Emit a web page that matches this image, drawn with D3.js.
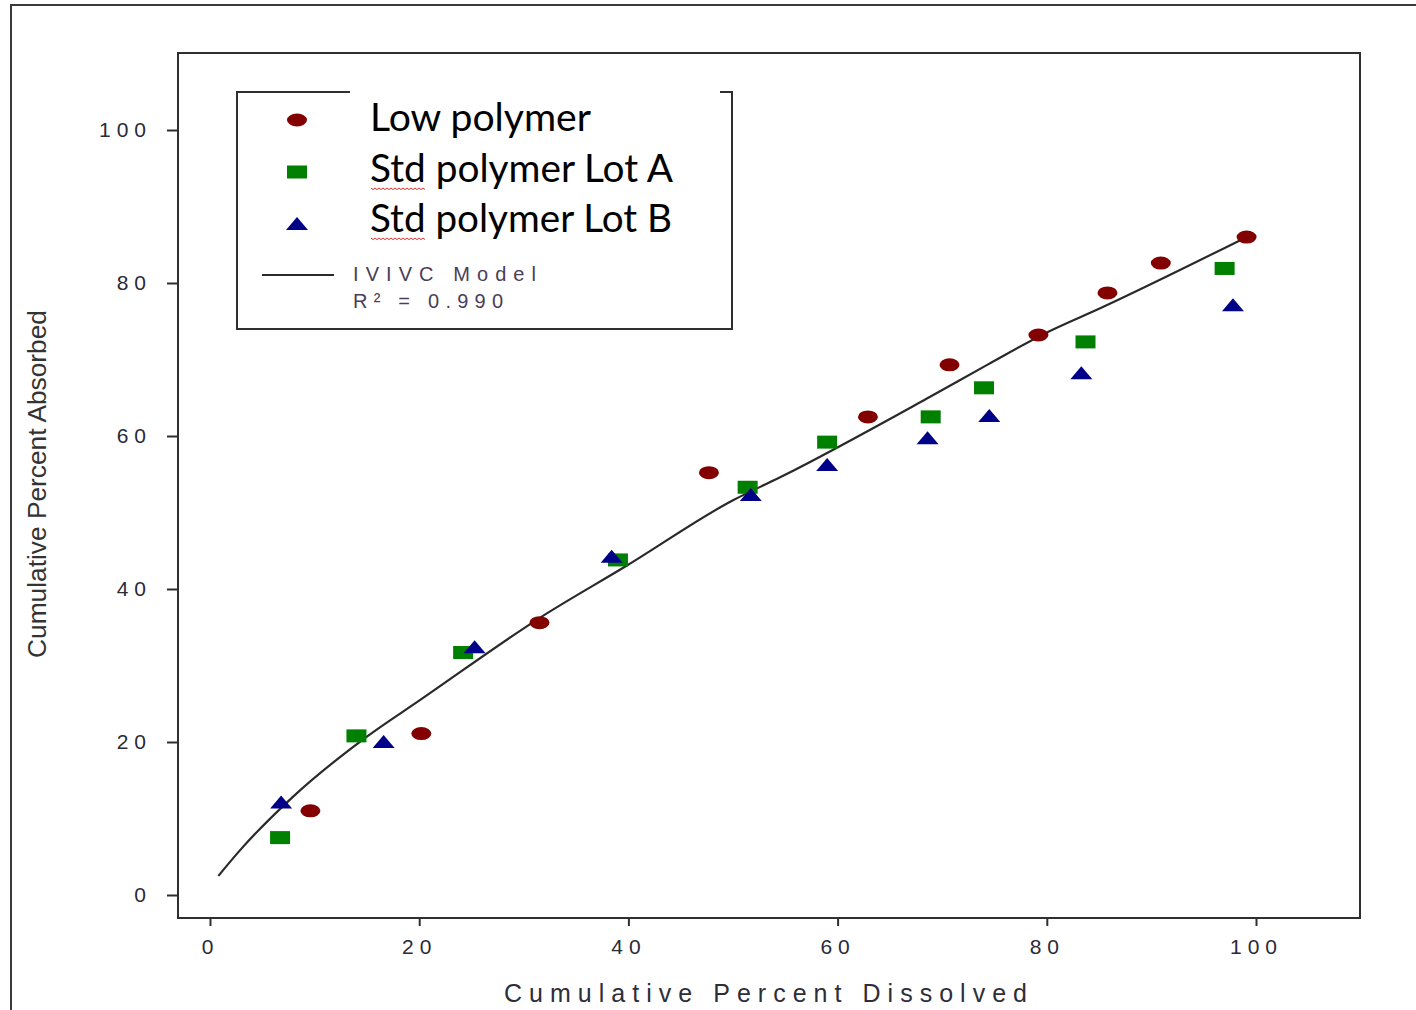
<!DOCTYPE html>
<html><head><meta charset="utf-8">
<script src="https://cdn.jsdelivr.net/npm/d3@7"></script>
<style>html,body{margin:0;padding:0;background:#fff;}svg{display:block;}</style>
</head><body>
<svg id="chart" width="1416" height="1010"></svg>
<script>
// ---- data ----
const xTicks = [0, 20, 40, 60, 80, 100];
const yTicks = [0, 20, 40, 60, 80, 100];
const seriesNames = ["Low polymer", "Std polymer Lot A", "Std polymer Lot B"];
const lowX = [9.6, 20.2, 31.5, 47.7, 62.9, 70.7, 79.2, 85.8, 90.9, 99.1];
const lowY = [11.0, 21.1, 35.6, 55.2, 62.5, 69.3, 73.2, 78.7, 82.6, 86.0];
const lotAX = [6.7, 14.0, 24.2, 39.0, 51.4, 59.0, 68.9, 74.0, 83.7, 97.0];
const lotAY = [7.5, 20.8, 31.7, 43.8, 53.3, 59.2, 62.5, 66.3, 72.3, 81.9];
const lotBX = [6.8, 16.6, 25.3, 38.4, 51.7, 59.0, 68.6, 74.5, 83.3, 97.8];
const lotBY = [12.1, 20.0, 32.4, 44.2, 52.3, 56.2, 59.7, 62.6, 68.2, 77.1];
const modelX = [0.8, 2.9, 7.9, 15.0, 20.1, 31.5, 39.9, 50.0, 54.5, 68.8, 74.3, 80.1, 85.1, 98.5];
const modelY = [2.5, 5.9, 12.8, 20.7, 25.5, 36.2, 43.1, 51.6, 54.6, 65.1, 69.3, 73.6, 76.7, 85.6];
const modelLabel = "IVIVC Model";
const r2Label = "R\u00B2 = 0.990";
const xTitle = "Cumulative Percent Dissolved";
const yTitle = "Cumulative Percent Absorbed";

const svg = d3.select("#chart");
const x = d3.scaleLinear().domain([0, 100]).range([210, 1256]);
const y = d3.scaleLinear().domain([0, 100]).range([895, 130]);
const frame = {l: 178, t: 53, r: 1360, b: 918};

// outer frame
svg.append("rect").attr("x", 11).attr("y", 5).attr("width", 1440).attr("height", 1040)
  .attr("fill", "none").attr("stroke", "#3a3a3a").attr("stroke-width", 2);

// plot frame
svg.append("rect").attr("x", frame.l).attr("y", frame.t)
  .attr("width", frame.r - frame.l).attr("height", frame.b - frame.t)
  .attr("fill", "none").attr("stroke", "#2f2f2f").attr("stroke-width", 2);

// axes
const tickFont = "'Liberation Sans', Arial, sans-serif";
const gx = svg.append("g").attr("transform", `translate(0,${frame.b})`)
  .call(d3.axisBottom(x).tickValues(xTicks).tickSize(8).tickPadding(13).tickFormat(d3.format("d")));
const gy = svg.append("g").attr("transform", `translate(${frame.l},0)`)
  .call(d3.axisLeft(y).tickValues(yTicks).tickSize(11).tickPadding(21).tickFormat(d3.format("d")));
[gx, gy].forEach(g => {
  g.select(".domain").remove();
  g.selectAll(".tick line").attr("stroke", "#2f2f2f").attr("stroke-width", 2);
  g.selectAll(".tick text").attr("fill", "#2a2a38").style("font-family", tickFont)
    .style("font-size", "21px").style("letter-spacing", "6px");
});
gx.selectAll(".tick text").attr("dx", "0px");
gy.selectAll(".tick text").attr("dx", "6px");

// axis titles
svg.append("text").attr("x", 504).attr("y", 1002)
  .attr("textLength", 523).attr("lengthAdjust", "spacing")
  .style("font-family", tickFont).style("font-size", "25px").attr("fill", "#2e2e3a").text(xTitle);
svg.append("text").attr("transform", "translate(46,658) rotate(-90)")
  .attr("textLength", 348).attr("lengthAdjust", "spacingAndGlyphs")
  .style("font-family", tickFont).style("font-size", "26px").attr("fill", "#333").text(yTitle);

// model line
const modelPts = modelX.map((v, i) => [v, modelY[i]]);
svg.append("path").datum(modelPts)
  .attr("d", d3.line().x(d => x(d[0])).y(d => y(d[1])).curve(d3.curveMonotoneX))
  .attr("fill", "none").attr("stroke", "#2a2a2a").attr("stroke-width", 2.2);

// markers
const colors = ["#820000", "#008000", "#000088"];
function drawMarker(g, type, cx, cy) {
  if (type === 0) {
    g.append("ellipse").attr("cx", cx).attr("cy", cy).attr("rx", 10).attr("ry", 6.5).attr("fill", colors[0]);
  } else if (type === 1) {
    g.append("rect").attr("x", cx - 10).attr("y", cy - 6.5).attr("width", 20).attr("height", 13).attr("fill", colors[1]);
  } else {
    g.append("path").attr("d", `M${cx},${cy - 7}L${cx + 11},${cy + 6}L${cx - 11},${cy + 6}Z`).attr("fill", colors[2]);
  }
}
const sets = [[lowX, lowY], [lotAX, lotAY], [lotBX, lotBY]];
const gm = svg.append("g");
sets.forEach((s, k) => {
  s[0].forEach((v, i) => drawMarker(gm, k, x(v), y(s[1][i])));
});

// legend
const lg = svg.append("g");
lg.append("path").attr("d", "M350,92H237V329H732V92H720")
  .attr("fill", "none").attr("stroke", "#2f2f2f").attr("stroke-width", 2);
const legBase = [131, 182, 232];
const legMarkY = [120, 172, 224];
const legWidth = [221, 303, 302];
seriesNames.forEach((n, i) => {
  drawMarker(lg, i, 297, legMarkY[i]);
  lg.append("text").attr("x", 370).attr("y", legBase[i])
    .attr("textLength", legWidth[i]).attr("lengthAdjust", "spacingAndGlyphs")
    .style("font-family", "Lato, 'Open Sans', sans-serif").style("font-size", "38px")
    .attr("fill", "#000").text(n);
});
// spell-check squiggles under "Std"
[188, 238].forEach(yy => {
  let d = `M371,${yy}`;
  for (let xx = 371, k = 0; xx < 425; xx += 2, k++) d += `L${xx + 2},${yy + (k % 2 ? 0 : 1.6)}`;
  lg.append("path").attr("d", d).attr("fill", "none").attr("stroke", "#e03030").attr("stroke-width", 1);
});
lg.append("line").attr("x1", 262).attr("x2", 334).attr("y1", 275).attr("y2", 275)
  .attr("stroke", "#2a2a2a").attr("stroke-width", 2);
lg.append("text").attr("x", 353).attr("y", 281).attr("textLength", 183).attr("lengthAdjust", "spacing")
  .style("font-family", tickFont).style("font-size", "20px").attr("fill", "#4a3d5a").text(modelLabel);
lg.append("text").attr("x", 353).attr("y", 308).attr("textLength", 150).attr("lengthAdjust", "spacing")
  .style("font-family", tickFont).style("font-size", "20px").attr("fill", "#4a3d5a").text(r2Label);
</script>
</body></html>
